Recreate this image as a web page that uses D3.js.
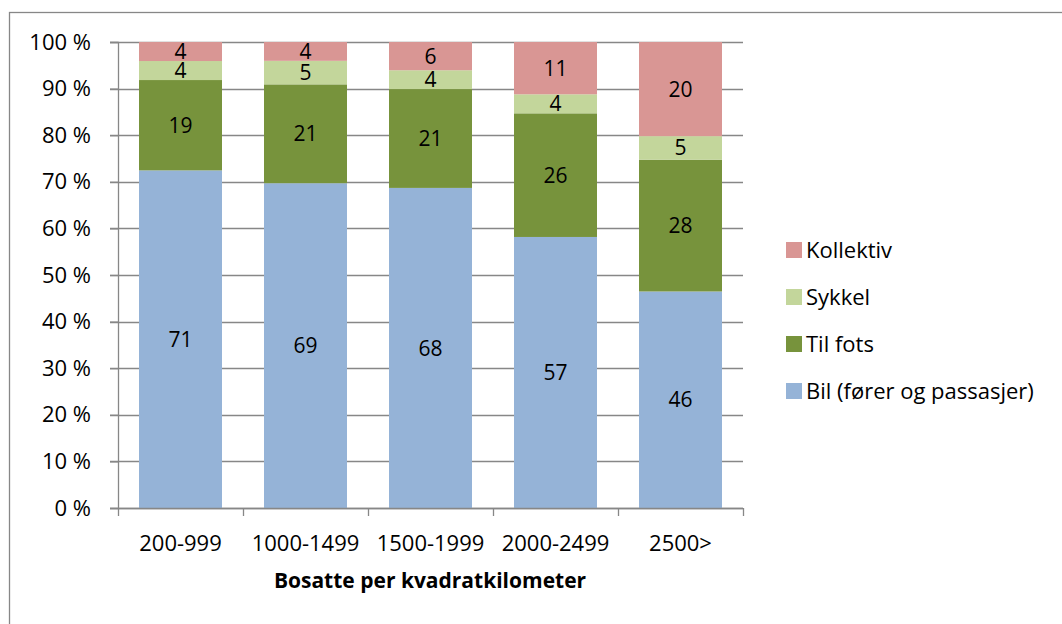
<!DOCTYPE html>
<html><head><meta charset="utf-8">
<script src="https://cdn.jsdelivr.net/npm/d3@7"></script>
<style>body{margin:0;background:#fff;}svg{display:block;font-family:"Open Sans",Lato,sans-serif;}</style>
</head><body><svg id="c" width="1062" height="624"></svg>
<script>
const categories = ["200-999","1000-1499","1500-1999","2000-2499","2500>"];
const bil = [71,69,68,57,46];
const tilFots = [19,21,21,26,28];
const sykkel = [4,5,4,4,5];
const kollektiv = [4,4,6,11,20];
const seriesNames = ["Bil (fører og passasjer)","Til fots","Sykkel","Kollektiv"];
const seriesColors = ["#95B3D7","#77933C","#C3D69B","#D99694"];
const yTicks = [0,0.1,0.2,0.3,0.4,0.5,0.6,0.7,0.8,0.9,1];
const xTitle = "Bosatte per kvadratkilometer";

const FONT = "\"Open Sans\",Lato,sans-serif";
const FS = 22;
const svgEl = d3.select("#c");
svgEl.append("rect").attr("x",9.5).attr("y",12.5).attr("width",1100).attr("height",700)
  .attr("fill","#fff").attr("stroke","#878787").attr("stroke-width",1.3);

const pLeft=118, pRight=743, pTop=42, pBottom=508;
const x = d3.scaleBand().domain(categories).range([pLeft,pRight]).paddingInner(0.336).paddingOuter(0.168);
const y = d3.scaleLinear().domain([0,1]).range([pBottom,pTop]);

const seriesVals = [bil,tilFots,sykkel,kollektiv];
const rows = categories.map((c,i)=>{
  const o={cat:c}; const tot=d3.sum(seriesVals,s=>s[i]);
  seriesNames.forEach((n,k)=>{o[n]=seriesVals[k][i]/tot; o["raw"+k]=seriesVals[k][i];});
  return o;
});
const stack = d3.stack().keys(seriesNames)(rows);

// gridlines
const g = svgEl.append("g");
g.selectAll("line.grid").data(yTicks).enter().append("line")
  .attr("x1",pLeft-8).attr("x2",pRight).attr("y1",d=>Math.round(y(d))+0.5).attr("y2",d=>Math.round(y(d))+0.5)
  .attr("stroke","#878787").attr("stroke-width",1.3);

// bars
stack.forEach((s,k)=>{
  const gg = svgEl.append("g");
  gg.selectAll("rect").data(s).enter().append("rect")
    .attr("x",d=>x(d.data.cat)).attr("width",x.bandwidth())
    .attr("y",d=>y(d[1])).attr("height",d=>y(d[0])-y(d[1]))
    .attr("fill",seriesColors[k]);
  gg.selectAll("text").data(s).enter().append("text")
    .attr("x",d=>x(d.data.cat)+x.bandwidth()/2)
    .attr("y",d=>(y(d[0])+y(d[1]))/2)
    .attr("dy","0.36em").attr("text-anchor","middle").attr("font-size",21).attr("fill","#000")
    .attr("font-family",FONT)
    .text(d=>d.data["raw"+k]);
});

// y axis
const yAxis = d3.axisLeft(y).tickValues(yTicks).tickFormat(d=>Math.round(d*100)+" %").tickSize(8).tickPadding(19);
const ya = svgEl.append("g").attr("transform",`translate(${pLeft},0)`).call(yAxis);
ya.select(".domain").attr("stroke","#878787").attr("stroke-width",1.3);
ya.selectAll(".tick line").attr("stroke","#878787").attr("stroke-width",1.3);
ya.selectAll("text").attr("font-size",FS).attr("fill","#000").attr("font-family",FONT);

// x axis
const xb = svgEl.append("g").attr("transform",`translate(0,${pBottom})`);
xb.append("line").attr("x1",pLeft).attr("x2",pRight).attr("y1",0.5).attr("y2",0.5).attr("stroke","#878787").attr("stroke-width",1.3);
const bounds = categories.map(c=>x(c)-x.step()*x.paddingInner()/2).concat([pRight]);
xb.selectAll("line.t").data(bounds).enter().append("line")
  .attr("x1",d=>Math.round(d)+0.5).attr("x2",d=>Math.round(d)+0.5).attr("y1",0).attr("y2",8)
  .attr("stroke","#878787").attr("stroke-width",1.3);
xb.selectAll("text").data(categories).enter().append("text")
  .attr("x",d=>x(d)+x.bandwidth()/2).attr("y",43).attr("text-anchor","middle")
  .attr("font-size",FS).attr("fill","#000").attr("font-family",FONT).text(d=>d);

svgEl.append("text").attr("x",430).attr("y",588).attr("text-anchor","middle")
  .attr("font-size",21).attr("font-weight","bold").attr("fill","#000").attr("font-family",FONT).text(xTitle);

// legend
const legOrder = [3,2,1,0];
const leg = svgEl.append("g");
legOrder.forEach((k,i)=>{
  const yy = 242 + i*47;
  leg.append("rect").attr("x",786).attr("y",yy).attr("width",16).attr("height",16).attr("fill",seriesColors[k]);
  leg.append("text").attr("x",806).attr("y",yy+8).attr("dy","0.36em").attr("font-size",FS).attr("fill","#000")
    .attr("font-family",FONT).text(seriesNames[k]);
});
</script></body></html>
